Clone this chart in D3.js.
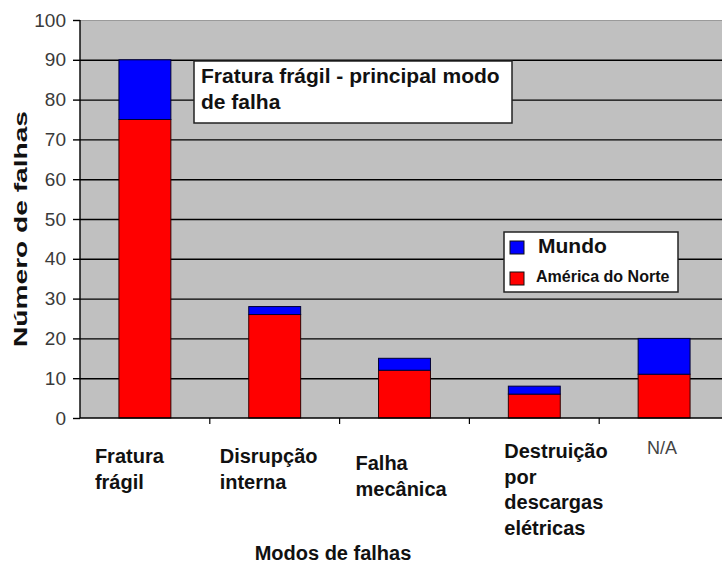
<!DOCTYPE html>
<html>
<head>
<meta charset="utf-8">
<script src="https://cdn.jsdelivr.net/npm/d3@7"></script>
<style>
  html, body { margin: 0; padding: 0; background: #fff; }
  svg { display: block; font-family: Arial, "Liberation Sans", sans-serif; }
</style>
</head>
<body>
<div id="chart"></div>
<script>
// data
const categories = ['Fratura frágil', 'Disrupção interna', 'Falha mecânica', 'Destruição por descargas elétricas', 'N/A'];
const americaNorte = [75, 26, 12, 6, 11];
const mundo = [15, 2, 3, 2, 9];
const yTicks = [0, 10, 20, 30, 40, 50, 60, 70, 80, 90, 100];
const seriesNames = ['Mundo', 'América do Norte'];

// wrapped label lines and their placement (layout only)
const labelLines = [
    ['Fratura', 'frágil'],
    ['Disrupção', 'interna'],
    ['Falha', 'mecânica'],
    ['Destruição', 'por', 'descargas', 'elétricas'],
    ['N/A']
];
const labelDx = [-50, -55, -49, -30, -17];
const labelY = [463, 463, 470, 458, 454];

let
    width = 722,
    height = 567,
    plotLeft = 80,
    plotTop = 20,
    plotBottom = 418,
    plotRight = 729,

    svg = d3
    .select('#chart')
    .append('svg')
    .attr('width', width)
    .attr('height', height),

    x = d3.scaleBand()
    .domain(categories)
    .range([plotLeft, plotRight])
    .paddingInner(0.6)
    .paddingOuter(0.3),

    y = d3.scaleLinear()
    .domain([0, 100])
    .range([plotBottom, plotTop]);

// plot background
svg.append('rect')
    .attr('x', plotLeft)
    .attr('y', plotTop)
    .attr('width', plotRight - plotLeft)
    .attr('height', plotBottom - plotTop)
    .style('fill', '#c0c0c0');

// gridlines
svg.append('g')
    .attr('transform', `translate(${plotLeft},0)`)
    .call(d3.axisLeft(y).tickValues(yTicks.filter(d => d > 0 && d < 100)).tickSize(-(plotRight - plotLeft)).tickFormat(''))
    .call(g => g.select('.domain').remove())
    .call(g => g.selectAll('line').style('stroke', '#000').style('stroke-width', 1.4));

svg.append('line')
    .attr('x1', plotLeft).attr('x2', plotRight)
    .attr('y1', y(100) + 0.5).attr('y2', y(100) + 0.5)
    .style('stroke', '#9a9a9a');

// stacked bars
categories.forEach((c, i) => {
    svg.append('rect')
        .attr('x', x(c))
        .attr('y', y(americaNorte[i]))
        .attr('width', x.bandwidth())
        .attr('height', y(0) - y(americaNorte[i]))
        .style('fill', '#ff0000')
        .style('stroke', '#300')
        .style('stroke-width', 1);

    svg.append('rect')
        .attr('x', x(c))
        .attr('y', y(americaNorte[i] + mundo[i]))
        .attr('width', x.bandwidth())
        .attr('height', y(americaNorte[i]) - y(americaNorte[i] + mundo[i]))
        .style('fill', '#0000ff')
        .style('stroke', '#003')
        .style('stroke-width', 1);
});

// y axis
svg.append('g')
    .attr('transform', `translate(${plotLeft},0)`)
    .call(d3.axisLeft(y).tickValues(yTicks).tickSize(7).tickPadding(7))
    .call(g => g.select('.domain').attr('d', `M0,${plotTop}V${plotBottom}`).style('stroke', '#000').style('stroke-width', 1.4))
    .call(g => g.selectAll('line').style('stroke', '#000').style('stroke-width', 1.4))
    .call(g => g.selectAll('text')
        .style('font-size', '19px')
        .style('fill', '#3a3a3a')
        .style('font-family', 'Arial, "Liberation Sans", sans-serif'));

// x axis line and boundary ticks
svg.append('line')
    .attr('x1', plotLeft).attr('x2', plotRight)
    .attr('y1', plotBottom).attr('y2', plotBottom)
    .style('stroke', '#000')
    .style('stroke-width', 1.4);

for (let i = 1; i <= categories.length; i++) {
    let bx = plotLeft + i * x.step();
    svg.append('line')
        .attr('x1', bx).attr('x2', bx)
        .attr('y1', plotBottom).attr('y2', plotBottom + 6)
        .style('stroke', '#000')
        .style('stroke-width', 1.2);
}

// category labels
categories.forEach((c, i) => {
    let cx = x(c) + x.bandwidth() / 2 + labelDx[i],
        isNA = c === 'N/A',
        t = svg.append('text')
            .attr('x', cx)
            .attr('y', labelY[i])
            .style('font-size', isNA ? '18px' : '20px')
            .style('font-weight', isNA ? 400 : 700)
            .style('fill', isNA ? '#444' : '#111');

    labelLines[i].forEach((line, k) => {
        t.append('tspan')
            .attr('x', cx)
            .attr('y', labelY[i] + k * 25.5)
            .text(line);
    });
});

// axis titles
svg.append('text')
    .attr('x', 333)
    .attr('y', 560)
    .attr('text-anchor', 'middle')
    .style('font-size', '20px')
    .style('font-weight', 700)
    .style('fill', '#111')
    .text('Modos de falhas');

svg.append('text')
    .attr('transform', 'translate(27,229) rotate(-90)')
    .attr('text-anchor', 'middle')
    .attr('textLength', 236)
    .attr('lengthAdjust', 'spacingAndGlyphs')
    .style('font-size', '19px')
    .style('font-weight', 700)
    .style('fill', '#111')
    .text('Número de falhas');

// annotation box
svg.append('rect')
    .attr('x', 194)
    .attr('y', 61)
    .attr('width', 318)
    .attr('height', 62)
    .style('fill', '#fff')
    .style('stroke', '#222')
    .style('stroke-width', 1.5);

let note = svg.append('text')
    .attr('x', 201)
    .attr('y', 83)
    .style('font-size', '21px')
    .style('font-weight', 700)
    .style('fill', '#111');
note.append('tspan').attr('x', 201).attr('y', 83).text('Fratura frágil - principal modo');
note.append('tspan').attr('x', 201).attr('y', 109).text('de falha');

// legend
svg.append('rect')
    .attr('x', 504)
    .attr('y', 232)
    .attr('width', 174)
    .attr('height', 60)
    .style('fill', '#fff')
    .style('stroke', '#222')
    .style('stroke-width', 1.5);

let legendColors = ['#0000ff', '#ff0000'],
    legendY = [241, 272],
    legendSize = ['21px', '16px'],
    legendTextY = [253, 282];

seriesNames.forEach((name, i) => {
    svg.append('rect')
        .attr('x', 510)
        .attr('y', legendY[i])
        .attr('width', 14)
        .attr('height', 13)
        .style('fill', legendColors[i])
        .style('stroke', '#111')
        .style('stroke-width', 1);

    svg.append('text')
        .attr('x', i === 0 ? 538 : 536)
        .attr('y', legendTextY[i])
        .style('font-size', legendSize[i])
        .style('font-weight', 700)
        .style('fill', '#111')
        .text(name);
});
</script>
</body>
</html>
